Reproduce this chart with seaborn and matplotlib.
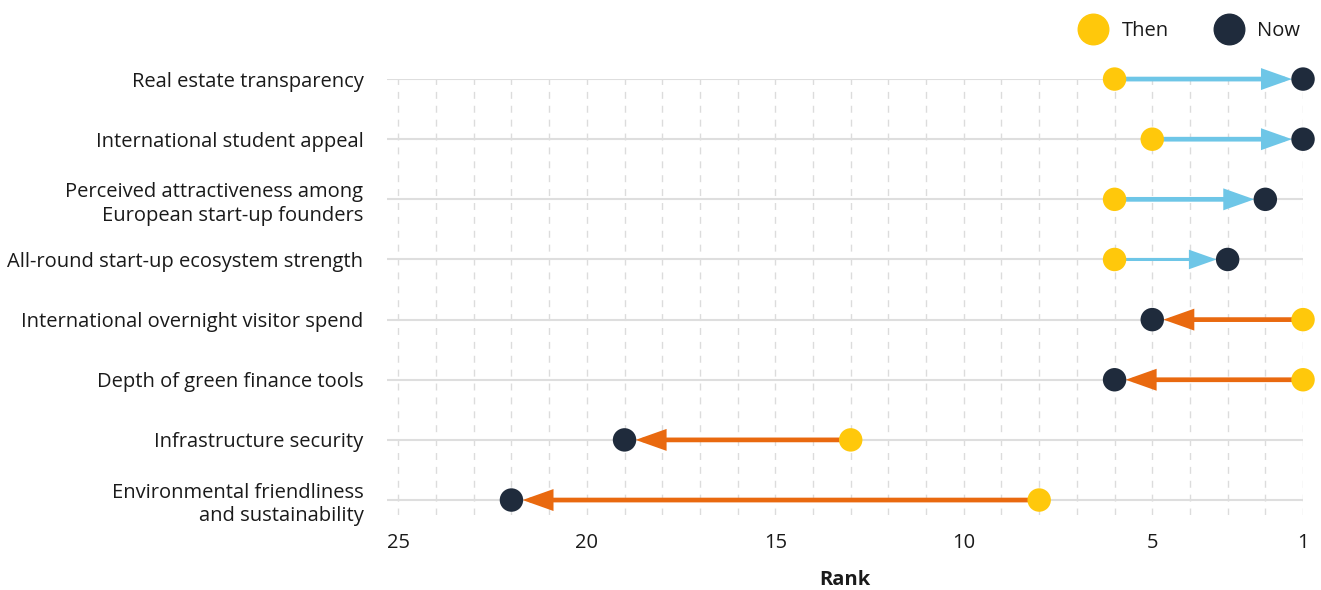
import matplotlib
matplotlib.use("Agg")
import matplotlib.pyplot as plt
from matplotlib.lines import Line2D
import seaborn as sns
import pandas as pd
import numpy as np

# Indicators and their ranks (1 = best)
indicators = [
    "Real estate transparency",
    "International student appeal",
    "Perceived attractiveness among\nEuropean start-up founders",
    "All-round start-up ecosystem strength",
    "International overnight visitor spend",
    "Depth of green finance tools",
    "Infrastructure security",
    "Environmental friendliness\nand sustainability",
]
rank_then = [6, 5, 6, 6, 1, 1, 13, 8]
rank_now = [1, 1, 2, 3, 5, 6, 19, 22]
rank_ticks = [25, 20, 15, 10, 5, 1]
series_names = ["Then", "Now"]

YELLOW = "#FFC80B"
NAVY = "#1F2B3C"
BLUE = "#6EC6E7"
ORANGE = "#E9690F"
TEXT = "#1A1A1A"
FS = 14.5

sns.set_theme(style="white")
plt.rcParams["font.family"] = ["Open Sans", "DejaVu Sans"]

rows = np.arange(len(indicators))
df = pd.DataFrame({
    "indicator": indicators * 2,
    "row": np.concatenate([rows, rows]),
    "rank": rank_then + rank_now,
    "when": [series_names[0]] * len(indicators) + [series_names[1]] * len(indicators),
})

fig = plt.figure(figsize=(13.21, 5.90), dpi=100)
ax = fig.add_axes([0.293, 0.127, 0.9864 - 0.293, 0.866 - 0.127])

x_left, x_right = 25.3, 1
ax.set_xlim(x_left, x_right)
ax.set_ylim(len(indicators) - 1 + 0.25, 0)

# dashed vertical grid at every rank
for r in range(1, 26):
    ax.axvline(r, color="#DCDCDC", lw=1, ls=(0, (5, 5)), zorder=0)
# solid guide line for each indicator
ax.hlines(rows, x_left, x_right, color="#DEDEDE", lw=1.5, zorder=1)

# arrows from the earlier rank to the current one
for i, (a, b) in enumerate(zip(rank_then, rank_now)):
    color = BLUE if b < a else ORANGE
    lw = 3.4 if abs(b - a) >= 4 else 2.2
    ax.annotate(
        "", xy=(b, i), xytext=(a, i),
        arrowprops=dict(
            arrowstyle="-|>,head_length=1.55,head_width=0.55",
            mutation_scale=10, color=color, lw=lw,
            shrinkA=0, shrinkB=8.0, joinstyle="miter", capstyle="butt",
        ),
        zorder=2, annotation_clip=False,
    )

sns.scatterplot(
    data=df, x="rank", y="row", hue="when",
    palette={series_names[0]: YELLOW, series_names[1]: NAVY},
    s=285, linewidth=0, ax=ax, zorder=3, clip_on=False, legend=False,
)

ax.set_yticks(rows)
ax.set_yticklabels(indicators, fontsize=FS, color=TEXT, ha="right", linespacing=1.25)
ax.set_xticks(rank_ticks)
ax.set_xticklabels([str(t) for t in rank_ticks], fontsize=FS, color=TEXT)
ax.tick_params(axis="x", length=0, pad=13)
ax.tick_params(axis="y", length=0, pad=17)
ax.set_xlabel("Rank", fontsize=FS, fontweight="bold", color=TEXT, labelpad=12)
ax.set_ylabel("")
for sp in ax.spines.values():
    sp.set_visible(False)

handles = [
    Line2D([], [], ls="none", marker="o", markersize=22, color=YELLOW, label=series_names[0]),
    Line2D([], [], ls="none", marker="o", markersize=22, color=NAVY, label=series_names[1]),
]
fig.legend(
    handles=handles, loc="upper right", bbox_to_anchor=(0.998, 0.995),
    ncol=2, frameon=False, fontsize=FS, handletextpad=0.4, columnspacing=2.0,
    labelcolor=TEXT,
)

fig.savefig("out.png", dpi=100)
